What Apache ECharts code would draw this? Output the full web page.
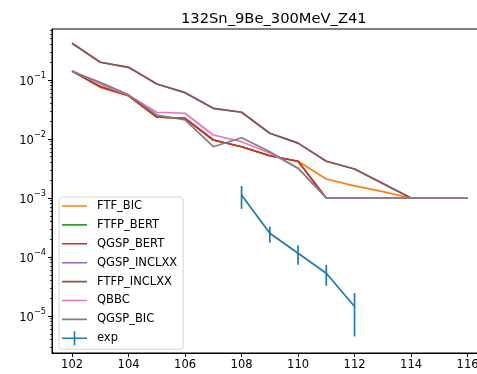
<!DOCTYPE html>
<html>
<head>
<meta charset="utf-8">
<script src="https://cdn.jsdelivr.net/npm/echarts@6/dist/echarts.min.js"></script>
<style>html,body{margin:0;padding:0;background:#fff}#c{width:477px;height:374px}</style>
</head>
<body>
<div id="c"></div>
<script>
var titleText = '132Sn_9Be_300MeV_Z41';
var xCats = [102,103,104,105,106,107,108,109,110,111,112,113,114,115,116];
var FTF_BIC     = [0.142,0.075,0.054,0.0236,0.0224,0.0096,0.0074,0.0052,0.0042,0.0021,0.0016,0.00128,0.001,0.001,0.001];
var FTFP_BERT   = [0.142,0.077,0.054,0.0236,0.0224,0.0096,0.0074,0.0052,0.0042,0.001,0.001,0.001,0.001,0.001,0.001];
var QGSP_BERT   = [0.142,0.077,0.054,0.0236,0.0224,0.0096,0.0074,0.0052,0.0042,0.001,0.001,0.001,0.001,0.001,0.001];
var QGSP_INCLXX = [0.419,0.200,0.164,0.0856,0.061,0.0331,0.0284,0.0125,0.0085,0.0042,0.0031,0.00176,0.001,0.001,0.001];
var FTFP_INCLXX = [0.419,0.200,0.164,0.0856,0.061,0.0331,0.0284,0.0125,0.0085,0.0042,0.0031,0.00176,0.001,0.001,0.001];
var QBBC        = [0.145,0.085,0.055,0.0284,0.0273,0.0117,0.0090,0.0058,0.0032,0.001,0.001,0.001,0.001,0.001,0.001];
var QGSP_BIC    = [0.139,0.091,0.056,0.0255,0.0210,0.0074,0.0105,0.0061,0.0032,0.001,0.001,0.001,0.001,0.001,0.001];
var expX   = [108,109,110,111,112];
var expY   = [1.125e-3,2.52e-4,1.156e-4,5.3e-5,1.45e-5];
var expErr = [4.7e-4,7.7e-5,4.2e-5,2.05e-5,1.0e-5];
var xTicks = [102,104,106,108,110,112,114,116];
var yMajor = [-5,-4,-3,-2,-1];

var names = ['FTF_BIC','FTFP_BERT','QGSP_BERT','QGSP_INCLXX','FTFP_INCLXX','QBBC','QGSP_BIC'];
var vals = [FTF_BIC,FTFP_BERT,QGSP_BERT,QGSP_INCLXX,FTFP_INCLXX,QBBC,QGSP_BIC];
var colors = ['#ff7f0e','#2ca02c','#d62728','#9467bd','#8c564b','#e377c2','#7f7f7f'];
var expColor = '#1f77b4';
var FONT = 'DejaVu Sans';

var yMin = -5.627, yMax = -0.136;
var yMinor = [];
for (var n = -6; n <= -1; n++) {
  for (var k = 2; k <= 9; k++) {
    var v = Math.log10(k) + n;
    if (v > yMin && v < yMax) yMinor.push(v);
  }
}

var series = [];
for (var i = 0; i < names.length; i++) {
  series.push({
    name: names[i], type: 'line', symbol: 'none', z: 2 + i,
    lineStyle: {color: colors[i], width: 1.7}, itemStyle: {color: colors[i]},
    data: xCats.map(function (x, j) { return [x, Math.log10(vals[i][j])]; })
  });
}
series.push({
  name: 'exp', type: 'line', symbol: 'none', z: 20,
  lineStyle: {color: expColor, width: 1.7}, itemStyle: {color: expColor},
  data: expX.map(function (x, j) { return [x, Math.log10(expY[j])]; })
});
series.push({
  name: 'exp', type: 'custom', z: 21,
  renderItem: function (params, api) {
    var x = api.value(0), lo = api.value(1), hi = api.value(2);
    var p1 = api.coord([x, hi]), p2 = api.coord([x, lo]);
    return {type: 'line', shape: {x1: p1[0], y1: p1[1], x2: p2[0], y2: p2[1]},
            style: {stroke: expColor, lineWidth: 1.7}};
  },
  data: expX.map(function (x, j) {
    return [x, Math.log10(Math.max(expY[j] - expErr[j], 1e-9)), Math.log10(expY[j] + expErr[j])];
  })
});

var lineIcon = 'path://M0,0 H0.01 V0.01 H0 Z M0,6.2 H25 V7.8 H0 Z M24.99,13.99 H25 V14 H24.99 Z';
var legendData = names.map(function (n, i) { return {name: n, icon: lineIcon, itemStyle: {color: colors[i]}}; });
legendData.push({name: 'exp', icon: 'path://M0,6.2 H25 V7.8 H0 Z M11.7,0 H13.3 V14 H11.7 Z', itemStyle: {color: expColor}});

var chart = echarts.init(document.getElementById('c'), null, {renderer: 'canvas'});
chart.setOption({
  animation: false,
  backgroundColor: '#fff',
  title: {text: titleText, left: 176, top: 7,
          textStyle: {fontFamily: FONT, fontSize: 14.7, fontWeight: 'normal', color: '#000'}},
  grid: {left: 52, width: 435.6, top: 29, height: 324, show: true, borderColor: '#000', borderWidth: 1,
         outerBoundsMode: 'none', containLabel: false},
  legend: {
    orient: 'vertical', left: 59, top: 197, data: legendData,
    itemWidth: 25, itemHeight: 14, itemGap: 4.9,
    padding: [2, 6, 4, 3],
    backgroundColor: 'rgba(255,255,255,0.8)', borderColor: '#d5d5d5', borderWidth: 1, borderRadius: 3,
    textStyle: {fontFamily: FONT, fontSize: 11.5, color: '#000', padding: [0, 0, 0, 5]}
  },
  xAxis: {
    type: 'value', min: 101.29, max: 116.71,
    axisLine: {lineStyle: {color: '#000', width: 1}},
    axisTick: {show: true, length: 4, customValues: xTicks, lineStyle: {color: '#000'}},
    axisLabel: {customValues: xTicks, color: '#000', fontFamily: FONT, fontSize: 11.5, margin: 6},
    splitLine: {show: false}
  },
  yAxis: [{
    type: 'value', min: yMin, max: yMax,
    axisLine: {show: true, lineStyle: {color: '#000', width: 1}},
    axisTick: {show: true, length: 4, customValues: yMajor, lineStyle: {color: '#000'}},
    axisLabel: {
      customValues: yMajor, margin: 6,
      formatter: function (v) { return '{b|10}{s|\u2212' + Math.round(-v) + '}'; },
      rich: {
        b: {fontFamily: FONT, fontSize: 11.5, color: '#000', lineHeight: 16, verticalAlign: 'bottom'},
        s: {fontFamily: FONT, fontSize: 8.2, color: '#000', lineHeight: 10, verticalAlign: 'top'}
      }
    },
    splitLine: {show: false}
  }, {
    type: 'value', min: yMin, max: yMax, position: 'left',
    axisLine: {show: false},
    axisTick: {show: true, length: 2, customValues: yMinor, lineStyle: {color: '#000', width: 0.8}},
    axisLabel: {show: false},
    splitLine: {show: false}
  }],
  series: series
});
</script>
</body>
</html>
